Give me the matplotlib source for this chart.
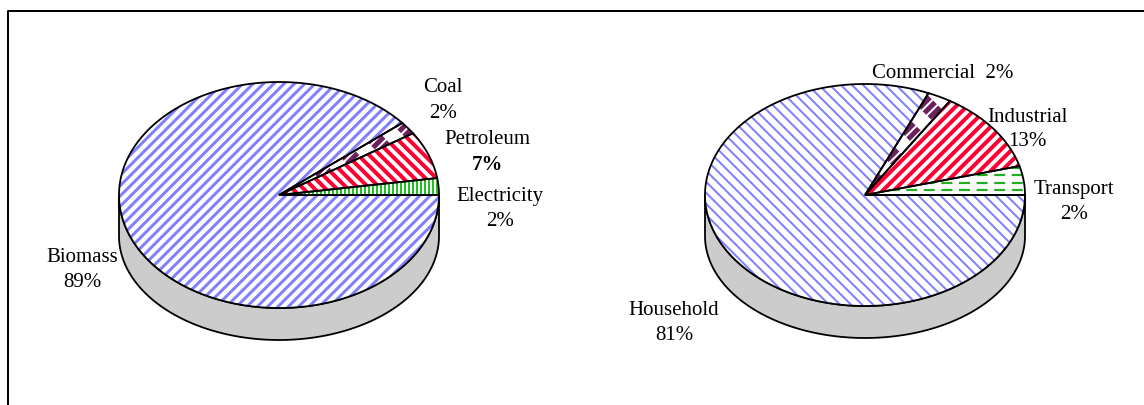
import numpy as np
import matplotlib.pyplot as plt
from matplotlib.patches import Polygon
from matplotlib.collections import LineCollection

plt.rcParams['font.family'] = ['Liberation Serif', 'DejaVu Serif']

# shares, labels as printed
left_names = ['Electricity', 'Petroleum', 'Coal', 'Biomass']
left_shares = [2.4, 6.8, 1.8, 89.0]
left_pcts = ['2%', '7%', '2%', '89%']

right_names = ['Transport', 'Industrial', 'Commercial', 'Household']
right_shares = [4.2, 11.9, 2.4, 81.5]
right_pcts = ['2%', '13%', '2%', '81%']

PX = 0.72  # points per pixel at dpi 100

fig = plt.figure(figsize=(11.44, 4.06), dpi=100)
ax = fig.add_axes([0, 0, 1, 1])
ax.set_xlim(0, 1144)
ax.set_ylim(406, 0)
ax.axis('off')


def arc(cx, cy, rx, ry, a0, a1, n=200):
    a = np.radians(np.linspace(a0, a1, n))
    return np.column_stack([cx + rx * np.cos(a), cy - ry * np.sin(a)])


def stripes(patch, cx, cy, R, ang, gap, width, color, dashes=None):
    # parallel lines clipped to a wedge
    u = np.array([np.cos(np.radians(ang)), -np.sin(np.radians(ang))])
    nv = np.array([-u[1], u[0]])
    segs = []
    for k in np.arange(-R, R, gap):
        c = np.array([cx, cy]) + k * nv
        segs.append([c - R * u, c + R * u])
    lc = LineCollection(segs, colors=color, linewidths=width * PX, zorder=3)
    if dashes:
        lc.set_linestyle((0, dashes))
    lc.set_capstyle('butt')
    ax.add_collection(lc)
    lc.set_clip_path(patch)


# hatch styles: angle of lines, gap, width, colour, dash pattern
blue_a = (45, 7.3, 3.0, '#8080ff', None)
blue_b = (-45, 7.8, 2.0, '#8080ff', None)
red_a = (-45, 7.8, 4.0, '#ff0033', None)
red_b = (45, 7.8, 4.0, '#ff0033', None)
green_v = (90, 4.0, 2.0, '#22c022', None)
green_h = (0, 7.5, 2.2, '#22b022', (5, 3))
purple = (45, 7.0, 5.0, '#6e1f5e', (3, 3))

left_styles = [green_v, red_a, purple, blue_a]
right_styles = [green_h, red_b, purple, blue_b]


def pie3d(cx, cy, rx, ry, shares, styles):
    lw = 1.8 * PX
    # bottom rim sits lower and flatter than the top face
    side = np.vstack([arc(cx, cy, rx, ry, 180, 360),
                      arc(cx, cy + 41, rx, ry - 9, 360, 180)])
    ax.add_patch(Polygon(side, closed=True, facecolor='#cccccc',
                         edgecolor='black', lw=lw, zorder=1))
    a0 = 0
    for share, st in zip(shares, styles):
        a1 = a0 + share * 3.6
        pts = np.vstack([[cx, cy], arc(cx, cy, rx, ry, a0, a1)])
        w = Polygon(pts, closed=True, facecolor='white', edgecolor='none', zorder=2)
        ax.add_patch(w)
        stripes(w, cx, cy, rx + 10, *st)
        ax.add_patch(Polygon(pts, closed=True, facecolor='none',
                             edgecolor='black', lw=lw, zorder=4))
        a0 = a1


pie3d(279, 196, 160, 113, left_shares, left_styles)
pie3d(865, 196, 160, 111, right_shares, right_styles)

fs = 15
# left pie labels
left_pos = [(500, 197), (487, 140), (443, 88), (82, 258)]
for name, pct, (x, y) in zip(left_names, left_pcts, left_pos):
    ax.text(x, y, name, ha='center', va='center', fontsize=fs)
    ax.text(x, y + 25, pct, ha='center', va='center', fontsize=fs,
            fontweight='bold' if name == 'Petroleum' else 'normal')

# right pie labels
right_pos = [(1074, 190), (1027, 117), None, (674, 311)]
for name, pct, pos in zip(right_names, right_pcts, right_pos):
    if pos is None:
        ax.text(872, 73, name + '  ' + pct, ha='left', va='center', fontsize=fs)
        continue
    x, y = pos
    ax.text(x, y, name, ha='center', va='center', fontsize=fs)
    ax.text(x, y + 25, pct, ha='center', va='center', fontsize=fs)

# chart frame (only top and left edges visible)
ax.plot([8, 8, 1144], [406, 12, 12], color='black', lw=2 * PX, zorder=5)

fig.savefig('out.png', dpi=100)
